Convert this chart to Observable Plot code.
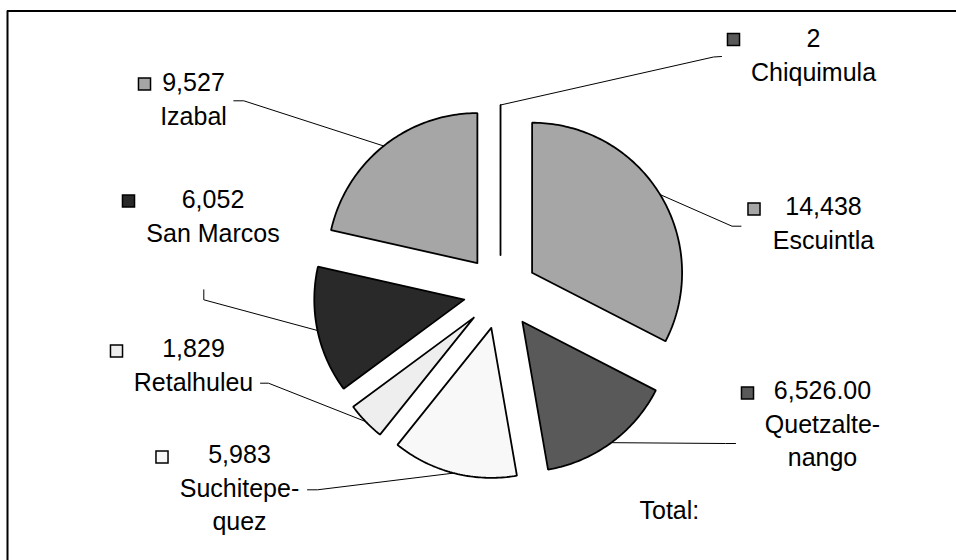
<!DOCTYPE html>
<html>
<head>
<meta charset="utf-8">
<script src="https://cdn.jsdelivr.net/npm/d3@7"></script>
<script src="https://cdn.jsdelivr.net/npm/@observablehq/plot@0.6"></script>
<style>
  html, body { margin: 0; padding: 0; background: #fff; }
  #chart svg { display: block; }
</style>
</head>
<body>
<div id="chart"></div>
<script>
// Departments, in clockwise order starting at 12 o'clock
const regions = ["Chiquimula", "Escuintla", "Quetzaltenango", "Suchitepequez", "Retalhuleu", "San Marcos", "Izabal"];
const amounts = [2, 14438, 6526, 5983, 1829, 6052, 9527];
// How each amount is printed in its label
const amountFormats = [",", ",", ",.2f", ",", ",", ",", ","];
// Department names as set in the labels (long names are hyphenated)
const labelNames = ["Chiquimula", "Escuintla", "Quetzalte-\nnango", "Suchitepe-\nquez", "Retalhuleu", "San Marcos", "Izabal"];
const shades = ["#595959", "#a6a6a6", "#595959", "#f8f8f8", "#eeeeee", "#292929", "#a6a6a6"];
const totalLabel = "Total:";

// Layout (pixels)
const W = 956, H = 560;
const center = [500, 291.5];
const radius = 150;
const explode = 37;
const fontSize = 25;
const lineHeight = 1.34;
// label block: centre x, baseline of the first line
const labelAt = [[813, 47], [823, 215], [822, 399], [239, 463], [193, 357], [212.5, 208], [193, 91]];
// legend key squares beside each label
const keyAt = [[733, 39], [753.5, 208.5], [747, 392.5], [161.5, 456.5], [116, 350.5], [128, 200.5], [144, 83.5]];
// label-side end of each leader line (outer point, elbow)
const leaderEnds = [
  [[721, 56], [713, 56.5]],
  [[740.5, 225.7], [731.5, 225.7]],
  [[735, 443], [725, 443]],
  [[307, 489.3], [317, 489.3]],
  [[260, 382.7], [268, 382.7]],
  [[203.3, 289.3], [203.3, 299.3]],
  [[233.3, 100.3], [243.3, 100.3]]
];

// Angles (radians, clockwise from 12 o'clock) from the amounts
const total = d3.sum(amounts);
let acc = 0;
const slices = regions.map((name, i) => {
  const a0 = acc / total * 2 * Math.PI;
  acc += amounts[i];
  const a1 = acc / total * 2 * Math.PI;
  const am = (a0 + a1) / 2;
  const ox = center[0] + explode * Math.sin(am);
  const oy = center[1] - explode * Math.cos(am);
  return {name, i, a0, a1, am, ox, oy, shade: shades[i]};
});

// Outline of each exploded wedge: apex, arc, back to apex
const wedgePoints = slices.flatMap(s => {
  const n = Math.max(2, Math.ceil((s.a1 - s.a0) / (Math.PI / 180)));
  const pts = [{name: s.name, shade: s.shade, x: s.ox, y: s.oy}];
  for (let k = 0; k <= n; ++k) {
    const a = s.a0 + (s.a1 - s.a0) * k / n;
    pts.push({name: s.name, shade: s.shade, x: s.ox + radius * Math.sin(a), y: s.oy - radius * Math.cos(a)});
  }
  pts.push({name: s.name, shade: s.shade, x: s.ox, y: s.oy});
  return pts;
});

// Leader lines from each label to the middle of its wedge's arc
const leaderPoints = slices.flatMap(s => {
  const [p0, p1] = leaderEnds[s.i];
  return [
    {name: s.name, x: p0[0], y: p0[1]},
    {name: s.name, x: p1[0], y: p1[1]},
    {name: s.name, x: s.ox + radius * Math.sin(s.am), y: s.oy - radius * Math.cos(s.am)}
  ];
});

const labels = slices.map(s => ({
  name: s.name,
  x: labelAt[s.i][0],
  y: labelAt[s.i][1] - 0.71 * lineHeight * fontSize,
  text: d3.format(amountFormats[s.i])(amounts[s.i]) + "\n" + labelNames[s.i]
}));

const keys = slices.map(s => ({name: s.name, x: keyAt[s.i][0], y: keyAt[s.i][1], shade: s.shade}));

const font = "'Liberation Sans', Arial, Helvetica, sans-serif";

const chart = Plot.plot({
  width: W,
  height: H,
  margin: 0,
  style: {background: "#fff", fontFamily: font},
  x: {domain: [0, W], range: [0, W], axis: null},
  y: {domain: [0, H], range: [0, H], axis: null},
  color: {type: "identity"},
  marks: [
    // chart border (top and left edges)
    Plot.ruleY([10.5], {x1: 7, x2: W, stroke: "#000", strokeWidth: 2}),
    Plot.ruleX([7], {y1: 10.5, y2: H, stroke: "#000", strokeWidth: 2}),
    Plot.line(leaderPoints, {x: "x", y: "y", z: "name", stroke: "#000", strokeWidth: 1, curve: "linear"}),
    Plot.line(wedgePoints, {
      x: "x", y: "y", z: "name", fill: "shade", stroke: "#000",
      strokeWidth: 1.8, strokeLinejoin: "miter", curve: "linear"
    }),
    Plot.dot(keys, {x: "x", y: "y", fill: "shade", stroke: "#000", strokeWidth: 1.5, symbol: "square", r: 6.8}),
    Plot.text(labels, {
      x: "x", y: "y", text: "text", textAnchor: "middle", lineAnchor: "top",
      lineHeight, fontSize, fill: "#000", fontFamily: font
    }),
    Plot.text([totalLabel], {
      x: () => 639, y: () => 518 - 0.71 * fontSize, text: d => d, textAnchor: "start", lineAnchor: "top",
      fontSize, fill: "#000", fontFamily: font
    })
  ]
});

document.getElementById("chart").appendChild(chart);
</script>
</body>
</html>
